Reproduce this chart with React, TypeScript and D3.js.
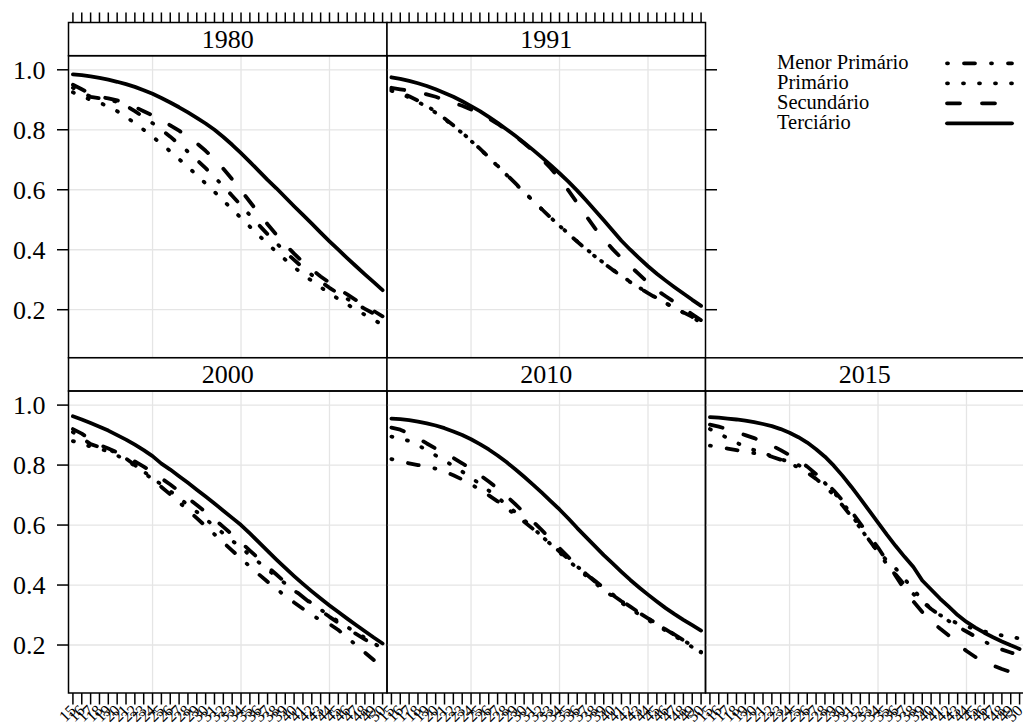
import * as d3 from "d3";

// ages on the x axis (one category per year)
const AGES = [15, 16, 17, 18, 19, 20, 21, 22, 23, 24, 25, 26, 27, 28, 29, 30, 31, 32, 33, 34, 35, 36, 37, 38, 39, 40, 41, 42, 43, 44, 45, 46, 47, 48, 49, 50];
const Y_TICKS = [0.2, 0.4, 0.6, 0.8, 1.0];
const X_GRID = [10, 20, 30];

const M1980 = [.940,.925,.910,.905,.900,.893,.880,.862,.842,.822,.800,.777,.752,.727,.700,.672,.642,.612,.580,.548,.515,.483,.452,.422,.393,.366,.340,.316,.294,.273,.254,.236,.219,.203,.187,.172];
const P1980 = [.925,.912,.900,.890,.878,.862,.843,.822,.800,.777,.753,.728,.702,.676,.649,.621,.593,.564,.535,.506,.477,.448,.420,.393,.367,.342,.318,.296,.275,.255,.236,.218,.200,.183,.166,.150];
const S1980 = [.950,.935,.920,.910,.905,.898,.888,.876,.862,.848,.832,.815,.797,.777,.755,.730,.702,.670,.635,.598,.560,.522,.485,.450,.417,.387,.359,.334,.311,.290,.270,.251,.232,.214,.196,.178];
const T1980 = [.985,.982,.978,.973,.967,.960,.952,.943,.932,.920,.906,.891,.875,.858,.840,.821,.800,.776,.750,.722,.693,.663,.633,.605,.575,.545,.516,.487,.457,.428,.400,.372,.345,.318,.292,.265];

const M1991 = [.935,.925,.912,.897,.880,.860,.838,.815,.790,.764,.737,.709,.680,.651,.622,.593,.564,.535,.507,.480,.453,.427,.402,.378,.355,.333,.312,.292,.273,.255,.238,.222,.206,.191,.176,.162];
const P1991 = [.930,.920,.908,.893,.876,.857,.836,.813,.789,.763,.736,.708,.679,.650,.621,.592,.563,.535,.507,.480,.454,.428,.403,.379,.356,.334,.313,.293,.274,.256,.239,.222,.206,.190,.174,.158];
const S1991 = [.940,.935,.930,.925,.918,.910,.900,.890,.880,.868,.855,.838,.820,.800,.778,.755,.730,.703,.672,.637,.598,.556,.513,.472,.435,.402,.372,.345,.318,.290,.265,.245,.225,.205,.185,.165];
const T1991 = [.975,.970,.963,.955,.946,.935,.923,.910,.895,.879,.862,.843,.823,.802,.780,.757,.733,.708,.682,.655,.627,.597,.565,.532,.498,.464,.430,.400,.372,.345,.320,.297,.275,.254,.233,.213];

const M2000 = [.910,.890,.870,.860,.852,.840,.822,.800,.776,.752,.727,.702,.676,.650,.623,.596,.569,.542,.515,.488,.462,.436,.411,.387,.364,.342,.321,.301,.282,.270,.250,.225,.200,.175,.150,.125];
const P2000 = [.880,.870,.862,.855,.845,.832,.816,.798,.778,.757,.735,.713,.690,.667,.644,.620,.596,.572,.548,.524,.500,.476,.452,.428,.405,.382,.360,.339,.318,.298,.279,.260,.242,.224,.206,.188];
const S2000 = [.920,.905,.885,.868,.855,.842,.828,.812,.795,.776,.756,.735,.713,.690,.667,.643,.619,.594,.568,.542,.515,.488,.461,.435,.409,.384,.360,.337,.315,.294,.274,.255,.237,.219,.201,.183];
const T2000 = [.963,.952,.940,.928,.915,.900,.885,.868,.850,.830,.805,.785,.763,.741,.718,.695,.672,.648,.624,.600,.572,.543,.514,.485,.457,.430,.404,.379,.355,.332,.310,.288,.267,.246,.225,.205];

const M2010 = [.820,.812,.806,.800,.795,.788,.778,.766,.752,.736,.718,.699,.679,.657,.634,.611,.587,.562,.537,.512,.487,.462,.438,.414,.391,.369,.348,.328,.308,.289,.270,.252,.234,.216,.197,.177];
const P2010 = [.895,.890,.880,.866,.850,.832,.815,.797,.778,.758,.737,.715,.692,.668,.643,.617,.590,.563,.536,.509,.482,.456,.431,.407,.384,.362,.341,.321,.302,.284,.266,.248,.230,.212,.193,.173];
const S2010 = [.925,.918,.905,.890,.872,.855,.840,.824,.806,.787,.767,.745,.722,.697,.670,.641,.612,.583,.553,.523,.493,.464,.437,.412,.389,.367,.346,.326,.307,.289,.271,.253,.235,.216,.196,.175];
const T2010 = [.955,.953,.950,.945,.939,.932,.923,.912,.900,.886,.870,.852,.832,.810,.786,.761,.735,.708,.680,.652,.622,.590,.560,.530,.500,.472,.444,.417,.392,.368,.345,.323,.303,.284,.266,.248];

const M2015 = [.865,.860,.855,.850,.845,.840,.835,.828,.818,.806,.792,.775,.754,.730,.700,.665,.628,.590,.550,.510,.470,.435,.400,.370,.345,.320,.300,.280,.262,.245,.228,.212,.197,.185,.175,.165];
const P2015 = [.920,.905,.890,.875,.860,.850,.840,.830,.820,.810,.800,.785,.765,.740,.710,.675,.635,.590,.548,.512,.482,.455,.420,.385,.350,.320,.300,.285,.272,.262,.253,.245,.238,.232,.227,.222];
const S2015 = [.935,.928,.920,.910,.900,.890,.878,.865,.850,.833,.815,.795,.770,.745,.715,.682,.645,.605,.565,.525,.480,.430,.385,.345,.310,.280,.255,.232,.205,.180,.160,.145,.132,.120,.110,.105];
const T2015 = [.960,.958,.955,.952,.948,.943,.937,.930,.920,.908,.893,.875,.853,.828,.798,.764,.727,.688,.648,.608,.568,.530,.494,.460,.415,.385,.355,.328,.300,.277,.258,.241,.226,.212,.199,.187];

const SERIES = [
  { key: "m", label: "Menor Primário", dash: "1 16 11 16" },
  { key: "p", label: "Primário", dash: "1 15" },
  { key: "s", label: "Secundário", dash: "13 22" },
  { key: "t", label: "Terciário", dash: null },
];

const PANELS = [
  { year: "1980", row: 0, col: 0, m: M1980, p: P1980, s: S1980, t: T1980 },
  { year: "1991", row: 0, col: 1, m: M1991, p: P1991, s: S1991, t: T1991 },
  { year: "2000", row: 1, col: 0, m: M2000, p: P2000, s: S2000, t: T2000 },
  { year: "2010", row: 1, col: 1, m: M2010, p: P2010, s: S2010, t: T2010 },
  { year: "2015", row: 1, col: 2, m: M2015, p: P2015, s: S2015, t: T2015 },
];

const FONT = "'Liberation Serif', 'Times New Roman', serif";
const LEFT = 68.5;
const COL_W = 318.5;
const ROW_TOP = [22.5, 357.8];
const STRIP_H = 33.2;
const PANEL_H = 302;
const TICK = 11.5;
const GRID = "#e5e5e5";

const x = d3.scaleLinear().domain([0.5, 36.5]).range([0, COL_W]);
const y = d3.scaleLinear().domain([0.04, 1.047]).range([STRIP_H + PANEL_H, STRIP_H]);

function Panel({ panel }: { panel: (typeof PANELS)[number] }) {
  const tx = LEFT + panel.col * COL_W;
  const ty = ROW_TOP[panel.row];
  const clipId = `clip-${panel.year}`;
  const line = d3
    .line<number>()
    .x((_, i) => x(i + 1))
    .y((d) => y(d));
  const showRight = (panel.row === 0 && panel.col === 1) || (panel.row === 1 && panel.col === 2);

  return (
    <g transform={`translate(${tx},${ty})`}>
      <defs>
        <clipPath id={clipId}>
          <rect x={0} y={STRIP_H} width={COL_W} height={PANEL_H} />
        </clipPath>
      </defs>
      {/* grid */}
      {X_GRID.map((g) => (
        <line key={"gx" + g} x1={x(g)} x2={x(g)} y1={STRIP_H} y2={STRIP_H + PANEL_H} stroke={GRID} strokeWidth={1.3} />
      ))}
      {Y_TICKS.map((v) => (
        <line key={"gy" + v} x1={0} x2={COL_W} y1={y(v)} y2={y(v)} stroke={GRID} strokeWidth={1.3} />
      ))}
      {/* curves */}
      <g clipPath={`url(#${clipId})`}>
        {SERIES.map((s) => (
          <path
            key={s.key}
            d={line((panel as any)[s.key]) || ""}
            fill="none"
            stroke="#000"
            strokeWidth={3.8}
            strokeLinecap="round"
            strokeLinejoin="round"
            strokeDasharray={s.dash || undefined}
          />
        ))}
      </g>
      {/* strip */}
      <rect x={0} y={0} width={COL_W} height={STRIP_H} fill="#fff" stroke="#000" strokeWidth={1.5} />
      <text x={COL_W / 2} y={STRIP_H / 2} dy="0.35em" textAnchor="middle" fontSize={26} fontFamily={FONT}>
        {panel.year}
      </text>
      <rect x={0} y={STRIP_H} width={COL_W} height={PANEL_H} fill="none" stroke="#000" strokeWidth={1.5} />
      {/* left axis */}
      {panel.col === 0 &&
        Y_TICKS.map((v) => (
          <g key={"ly" + v}>
            <line x1={-TICK} x2={0} y1={y(v)} y2={y(v)} stroke="#000" strokeWidth={1.5} />
            <text x={-23} y={y(v)} dy="0.35em" textAnchor="end" fontSize={26} fontFamily={FONT}>
              {d3.format(".1f")(v)}
            </text>
          </g>
        ))}
      {showRight &&
        Y_TICKS.map((v) => (
          <line key={"ry" + v} x1={COL_W} x2={COL_W + TICK} y1={y(v)} y2={y(v)} stroke="#000" strokeWidth={1.5} />
        ))}
      {/* top axis */}
      {panel.row === 0 &&
        AGES.map((a, i) => (
          <line key={"tx" + a} x1={x(i + 1)} x2={x(i + 1)} y1={0} y2={-10} stroke="#000" strokeWidth={1.5} />
        ))}
      {/* bottom axis */}
      {panel.row === 1 &&
        AGES.map((a, i) => (
          <g key={"bx" + a}>
            <line x1={x(i + 1)} x2={x(i + 1)} y1={STRIP_H + PANEL_H} y2={STRIP_H + PANEL_H + TICK} stroke="#000" strokeWidth={1.5} />
            <text
              transform={`translate(${x(i + 1) + 4},${STRIP_H + PANEL_H + TICK + 7}) rotate(-45)`}
              textAnchor="end"
              fontSize={16}
              fontFamily={FONT}
            >
              {a}
            </text>
          </g>
        ))}
    </g>
  );
}

function Legend() {
  const rows = [63.3, 83.3, 103.3, 123.3];
  return (
    <g>
      {SERIES.map((s, i) => (
        <g key={s.key}>
          <text x={777} y={rows[i]} dy="0.3em" fontSize={20.5} fontFamily={FONT}>
            {s.label}
          </text>
          <line
            x1={947}
            x2={1012}
            y1={rows[i]}
            y2={rows[i]}
            stroke="#000"
            strokeWidth={3.8}
            strokeLinecap="round"
            strokeDasharray={s.dash || undefined}
          />
        </g>
      ))}
    </g>
  );
}

export default function App() {
  return (
    <svg
      width={1023}
      height={728}
      style={{ position: "absolute", left: 0, top: 0, background: "#fff" }}
    >
      <rect width={1023} height={728} fill="#fff" />
      {PANELS.map((p) => (
        <Panel key={p.year} panel={p} />
      ))}
      <Legend />
    </svg>
  );
}
